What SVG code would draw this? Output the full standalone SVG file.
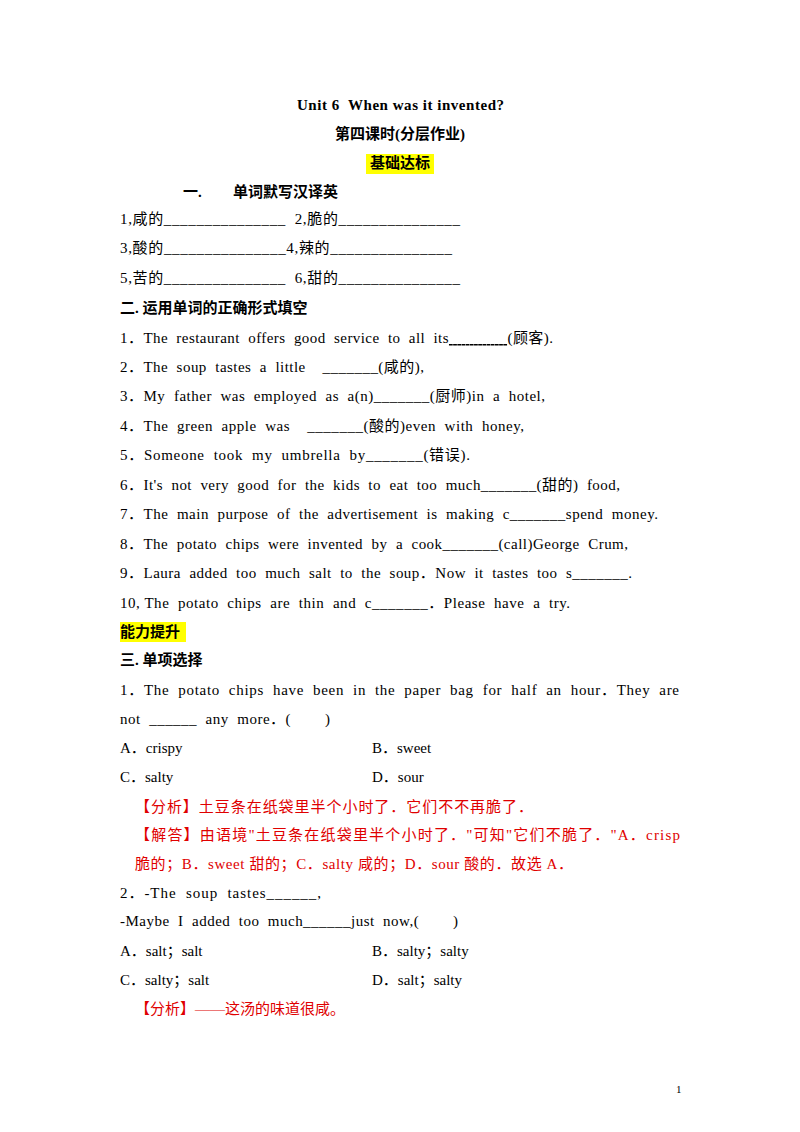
<svg xmlns="http://www.w3.org/2000/svg" width="800" height="1132" viewBox="0 0 800 1132" xml:space="preserve">
<style>
text{font-family:"Liberation Serif","Noto Sans CJK SC",serif;font-size:15px;fill:#000;white-space:pre}
.b{font-weight:bold}
.r{fill:#e00000}
.hl{fill:#ffff00}
</style>
<rect width="800" height="1132" fill="#fff"/>
<rect class="hl" x="366" y="154" width="68" height="20"/>
<rect class="hl" x="120" y="622" width="66" height="20"/>
<text class="b" x="297" y="110" textLength="207" lengthAdjust="spacing">Unit 6  When was it invented?</text>
<text class="b" x="400" y="139" text-anchor="middle">第四课时(分层作业)</text>
<text class="b" x="400" y="168" text-anchor="middle">基础达标</text>
<text class="b" x="183" y="197">一.</text>
<text class="b" x="233" y="197">单词默写汉译英</text>
<text x="120" y="224" textLength="340" lengthAdjust="spacing">1,咸的_______________  2,脆的_______________</text>
<text x="120" y="253" textLength="332" lengthAdjust="spacing">3,酸的_______________4,辣的_______________</text>
<text x="120" y="283" textLength="340" lengthAdjust="spacing">5,苦的_______________  6,甜的_______________</text>
<text class="b" x="120" y="313">二. 运用单词的正确形式填空</text>
<text x="120" y="343" textLength="433" lengthAdjust="spacing">1．The  restaurant  offers  good  service  to  all  its<tspan text-decoration="underline">              </tspan>(顾客).</text>
<text x="120" y="372" textLength="304" lengthAdjust="spacing">2．The  soup  tastes  a  little    _______(咸的),</text>
<text x="120" y="401" textLength="425" lengthAdjust="spacing">3．My  father  was  employed  as  a(n)_______(厨师)in  a  hotel,</text>
<text x="120" y="431" textLength="404" lengthAdjust="spacing">4．The  green  apple  was    _______(酸的)even  with  honey,</text>
<text x="120" y="460" textLength="350" lengthAdjust="spacing">5．Someone  took  my  umbrella  by_______(错误).</text>
<text x="120" y="490" textLength="500" lengthAdjust="spacing">6．It's  not  very  good  for  the  kids  to  eat  too  much_______(甜的)  food,</text>
<text x="120" y="519" textLength="538" lengthAdjust="spacing">7．The  main  purpose  of  the  advertisement  is  making  c_______spend  money.</text>
<text x="120" y="549" textLength="508" lengthAdjust="spacing">8．The  potato  chips  were  invented  by  a  cook_______(call)George  Crum,</text>
<text x="120" y="578" textLength="512" lengthAdjust="spacing">9．Laura  added  too  much  salt  to  the  soup．Now  it  tastes  too  s_______.</text>
<text x="120" y="608" textLength="450" lengthAdjust="spacing">10, The  potato  chips  are  thin  and  c_______．Please  have  a  try.</text>
<text class="b" x="120" y="637">能力提升</text>
<text class="b" x="120" y="665">三. 单项选择</text>
<text x="120" y="695" textLength="559" lengthAdjust="spacing">1．The  potato  chips  have  been  in  the  paper  bag  for  half  an  hour．They  are</text>
<text x="120" y="724" textLength="210" lengthAdjust="spacing">not  ______  any  more．(        )</text>
<text x="120" y="753">A．crispy</text>
<text x="372" y="753">B．sweet</text>
<text x="120" y="782">C．salty</text>
<text x="372" y="782">D．sour</text>
<text class="r" x="135" y="812" textLength="398" lengthAdjust="spacing">【分析】土豆条在纸袋里半个小时了．它们不不再脆了．</text>
<text class="r" x="135" y="840" textLength="545" lengthAdjust="spacing">【解答】由语境"土豆条在纸袋里半个小时了．"可知"它们不脆了．"A．crisp</text>
<text class="r" x="135" y="869" textLength="438" lengthAdjust="spacing">脆的；B．sweet 甜的；C．salty 咸的；D．sour 酸的．故选 A．</text>
<text x="120" y="898" textLength="201" lengthAdjust="spacing">2．-The  soup  tastes______,</text>
<text x="120" y="926" textLength="338" lengthAdjust="spacing">-Maybe  I  added  too  much______just  now,(        )</text>
<text x="120" y="956">A．salt；salt</text>
<text x="372" y="956">B．salty；salty</text>
<text x="120" y="985">C．salty；salt</text>
<text x="372" y="985">D．salt；salty</text>
<text class="r" x="135" y="1014">【分析】——这汤的味道很咸。</text>
<text x="676" y="1093" style="font-size:11px">1</text>
</svg>
